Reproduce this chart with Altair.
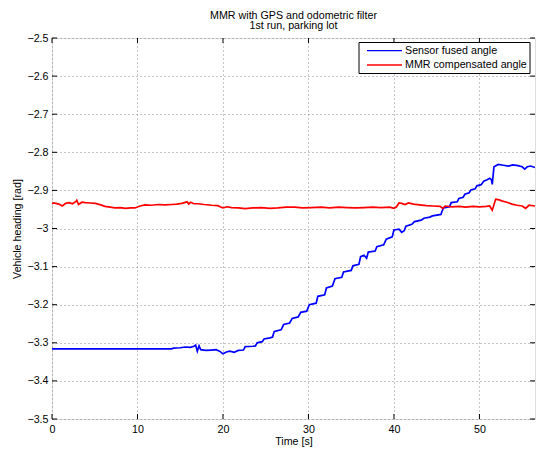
import altair as alt
import pandas as pd

# ---------------- data ----------------
series = ["Sensor fused angle", "MMR compensated angle"]
series_colors = ["#0000ff", "#ff0000"]

blue_t = [0, 14.0, 14.2, 15.0, 15.6, 16.2, 16.6, 16.8, 17.0, 17.2, 17.4, 18.0, 18.6, 19.2, 19.6,
          20.0, 20.4, 20.8, 21.3, 21.8, 22.4, 22.6, 23.5, 23.8, 24.0, 24.6, 24.8, 25.5, 25.8,
          26.0, 26.8, 27.1, 27.8, 28.1, 28.8, 29.1, 29.8, 30.1, 30.9, 31.1, 31.9, 32.1, 32.8,
          33.1, 33.9, 34.1, 35.0, 35.2, 35.9, 36.1, 36.5, 36.8, 37.0, 37.8, 38.0, 38.8, 39.1,
          39.8, 40.0, 40.6, 40.9, 41.2, 41.4, 42.1, 42.4, 43.2, 43.5, 44.2, 44.5, 45.5, 45.6,
          45.8, 46.5, 46.7, 47.4, 47.6, 48.1, 48.3, 48.8, 49.0, 49.5, 49.7, 50.2, 50.5, 50.9,
          51.2, 51.4, 51.5, 51.7, 52.2, 52.8, 53.4, 53.9, 54.5, 55.0, 55.3, 55.6, 56.0, 56.5]
blue_v = [-3.316, -3.316, -3.314, -3.313, -3.311, -3.312, -3.309, -3.306, -3.322, -3.308, -3.318,
          -3.320, -3.319, -3.318, -3.322, -3.329, -3.324, -3.322, -3.325, -3.320, -3.319, -3.310,
          -3.309, -3.308, -3.300, -3.297, -3.290, -3.287, -3.285, -3.270, -3.266, -3.252, -3.248,
          -3.236, -3.232, -3.220, -3.217, -3.200, -3.196, -3.178, -3.174, -3.156, -3.151, -3.132,
          -3.128, -3.114, -3.110, -3.098, -3.094, -3.074, -3.070, -3.078, -3.062, -3.059, -3.048,
          -3.043, -3.028, -3.022, -3.004, -3.002, -3.010, -3.006, -2.994, -2.989, -2.982, -2.978,
          -2.973, -2.970, -2.967, -2.963, -2.956, -2.946, -2.943, -2.932, -2.930, -2.921, -2.918,
          -2.910, -2.906, -2.899, -2.896, -2.888, -2.885, -2.876, -2.872, -2.868, -2.872, -2.884,
          -2.838, -2.832, -2.834, -2.836, -2.833, -2.835, -2.838, -2.844, -2.838, -2.836, -2.840]

red_t = [0, 0.2, 0.8, 1.2, 1.6, 2.0, 2.4, 2.8, 2.9, 3.1, 3.5, 3.9, 4.5, 5.1, 5.7, 6.2, 6.8, 7.4,
         8.0, 8.6, 9.2, 9.7, 10.3, 10.9, 11.6, 12.4, 13.2, 14.0, 14.6, 15.2, 15.8, 16.0, 16.2,
         16.6, 17.1, 17.8, 18.7, 19.4, 19.8, 20.0, 20.5, 21.0, 21.8, 22.6, 23.5, 24.5, 25.5,
         26.4, 27.4, 28.4, 29.3, 30.3, 31.5, 32.5, 33.5, 34.5, 35.5, 36.5, 37.5, 38.5, 39.5,
         40.0, 40.3, 40.6, 40.9, 41.3, 41.7, 42.3, 43.0, 43.8, 44.6, 45.4, 45.7, 46.0, 46.8,
         47.6, 48.4, 49.2, 50.0, 50.8, 51.2, 51.5, 51.9, 52.3, 52.7, 53.2, 53.8, 54.4, 55.0,
         55.4, 55.8, 56.5]
red_v = [-2.935, -2.933, -2.936, -2.941, -2.934, -2.932, -2.935, -2.929, -2.926, -2.937, -2.931,
         -2.932, -2.933, -2.934, -2.938, -2.942, -2.944, -2.946, -2.945, -2.947, -2.946, -2.946,
         -2.941, -2.938, -2.939, -2.937, -2.938, -2.937, -2.936, -2.934, -2.930, -2.936, -2.931,
         -2.935, -2.935, -2.937, -2.939, -2.940, -2.944, -2.946, -2.943, -2.945, -2.946, -2.948,
         -2.946, -2.945, -2.947, -2.946, -2.944, -2.944, -2.946, -2.945, -2.944, -2.946, -2.944,
         -2.945, -2.946, -2.945, -2.944, -2.945, -2.944, -2.947, -2.943, -2.933, -2.934, -2.937,
         -2.933, -2.936, -2.938, -2.940, -2.941, -2.942, -2.947, -2.941, -2.943, -2.942, -2.944,
         -2.942, -2.943, -2.942, -2.941, -2.952, -2.923, -2.925, -2.928, -2.931, -2.936, -2.939,
         -2.941, -2.947, -2.939, -2.941]

x_ticks = [0, 10, 20, 30, 40, 50]
y_ticks = [-2.5, -2.6, -2.7, -2.8, -2.9, -3.0, -3.1, -3.2, -3.3, -3.4, -3.5]
x_domain = [0, 56.5]
y_domain = [-3.5, -2.5]

# ---------------- tables ----------------
blue_df = pd.DataFrame({"t": blue_t, "v": blue_v, "series": series[0]})
red_df = pd.DataFrame({"t": red_t, "v": red_v, "series": series[1]})
xt_df = pd.DataFrame({"t": x_ticks})
yt_df = pd.DataFrame({"v": y_ticks})
leg_df = pd.DataFrame({"series": series, "row": [0, 1]})

# ---------------- styling ----------------
W, H = 483, 381
FONT = "Liberation Sans"
FS = 10.7
LW = 1.7

xs = alt.Scale(domain=x_domain, nice=False, zero=False)
ys = alt.Scale(domain=y_domain, nice=False, zero=False)
cs = alt.Scale(domain=series, range=series_colors)

xaxis = alt.Axis(values=x_ticks, title="Time [s]", grid=True, gridDash=[1, 3],
                 gridColor="#8c8c8c", gridWidth=1, tickSize=0, domain=False,
                 labelPadding=5, labelFont=FONT, labelFontSize=FS, labelColor="black",
                 titleFont=FONT, titleFontSize=FS, titleFontWeight="normal", titleColor="black",
                 titleX=W / 2, titleY=22, titleBaseline="middle", titleAlign="center",
                 labelFlush=False)
yaxis = alt.Axis(values=y_ticks, title="Vehicle heading [rad]", grid=True, gridDash=[1, 3],
                 gridColor="#8c8c8c", gridWidth=1, tickSize=0, domain=False, format="~g",
                 labelPadding=4, labelFont=FONT, labelFontSize=FS, labelColor="black",
                 titleFont=FONT, titleFontSize=FS, titleFontWeight="normal", titleColor="black",
                 titleX=-35, titleY=H / 2, titleAngle=-90, titleBaseline="middle",
                 titleAlign="center", labelFlush=False)

X = lambda f: alt.X(f, scale=xs, axis=xaxis)
Y = lambda f: alt.Y(f, scale=ys, axis=yaxis)

blue = alt.Chart(blue_df).mark_line(strokeWidth=LW, clip=True).encode(
    x=X("t:Q"), y=Y("v:Q"),
    color=alt.Color("series:N", scale=cs, legend=None))
red = alt.Chart(red_df).mark_line(strokeWidth=LW, clip=True).encode(
    x=X("t:Q"), y=Y("v:Q"),
    color=alt.Color("series:N", scale=cs, legend=None))

# inward ticks (MATLAB style), on all four sides
TL = 5
xt_bottom = alt.Chart(xt_df).mark_rule(color="black", strokeWidth=1).encode(
    x=X("t:Q"), y=alt.value(H), y2=alt.value(H - TL))
xt_top = alt.Chart(xt_df).mark_rule(color="black", strokeWidth=1).encode(
    x=X("t:Q"), y=alt.value(0), y2=alt.value(TL))
yt_left = alt.Chart(yt_df).mark_rule(color="black", strokeWidth=1).encode(
    y=Y("v:Q"), x=alt.value(0), x2=alt.value(TL))
yt_right = alt.Chart(yt_df).mark_rule(color="black", strokeWidth=1).encode(
    y=Y("v:Q"), x=alt.value(W), x2=alt.value(W - TL))

# legend box (drawn by hand, MATLAB style)
LX0, LX1, LY0, LY1 = 307, 478, 4.5, 35.5
ROW_Y = [12.7, 27.0]
leg_box = alt.Chart(leg_df).transform_filter("datum.row == 0").mark_rect(
    fill="white", stroke="black", strokeWidth=1).encode(
    x=alt.value(LX0), x2=alt.value(LX1), y=alt.value(LY0), y2=alt.value(LY1))
leg_layers = [leg_box]
for i in range(len(series)):
    leg_layers.append(
        alt.Chart(leg_df).transform_filter(f"datum.row == {i}").mark_rule(strokeWidth=1.3).encode(
            x=alt.value(315), x2=alt.value(350), y=alt.value(ROW_Y[i]),
            color=alt.Color("series:N", scale=cs, legend=None)))
    leg_layers.append(
        alt.Chart(leg_df).transform_filter(f"datum.row == {i}").mark_text(
            align="left", baseline="middle", font=FONT, fontSize=FS, color="black").encode(
            x=alt.value(353), y=alt.value(ROW_Y[i]), text="series:N"))

chart = alt.layer(blue, red, xt_bottom, xt_top, yt_left, yt_right, *leg_layers).properties(
    width=W, height=H,
    title=alt.TitleParams(
        text=["MMR with GPS and odometric filter", "1st run, parking lot"],
        font=FONT, fontSize=FS, fontWeight="normal", color="black",
        anchor="middle", frame="group", offset=0, lineHeight=10.5),
    autosize=alt.AutoSizeParams(type="none"),
    padding={"left": 44, "top": 30, "right": 4, "bottom": 31},
).configure_view(stroke="black", strokeWidth=1.2).configure(background="white")

chart.save("out.html", embed_options={"renderer": "svg", "actions": False})
